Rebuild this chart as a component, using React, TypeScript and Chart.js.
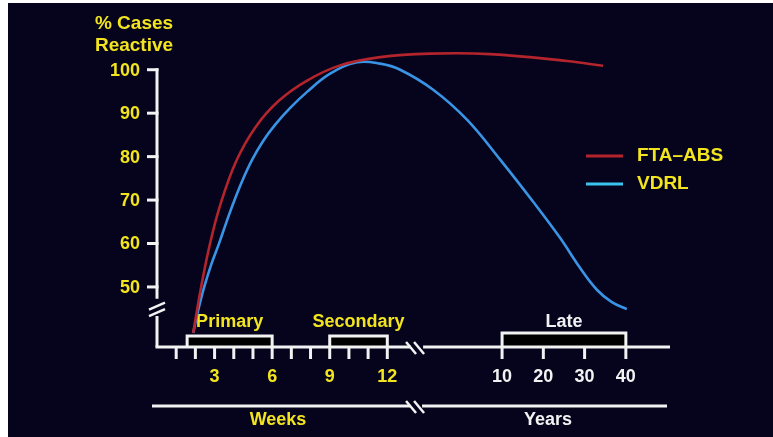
import { useEffect, useRef } from "react";
import { Chart, registerables } from "chart.js";

Chart.register(...registerables);

// ---- data (x positions are on the broken "timeline" axis: weeks 0..13, then the years section) ----
const ftaPos = [1.885, 2.3, 2.77, 3.29, 4.13, 5.15, 6.36, 7.82, 9.54, 11.63, 14.23, 17.35, 21.36, 23.24];
const ftaPct = [39.4, 50.0, 60.1, 68.8, 79.0, 86.9, 92.9, 97.5, 101.0, 102.9, 103.7, 103.6, 102.0, 100.9];

const vdrlPos = [1.885, 2.15, 2.46, 2.82, 3.24, 3.6, 3.97, 4.44, 4.96, 5.53, 6.15, 6.94, 7.82, 9.02, 10.43, 11.63, 12.67, 14.39, 16.15, 17.88, 19.6, 21.0, 22.04, 22.93, 23.7, 24.48];
const vdrlPct = [39.4, 44.7, 50.0, 55.1, 60.1, 64.7, 69.2, 74.4, 79.3, 83.6, 87.3, 91.2, 94.9, 99.1, 101.7, 101.4, 100.0, 95.4, 88.5, 79.3, 69.6, 61.3, 54.4, 49.3, 46.5, 44.9];

const yTicks = [50, 60, 70, 80, 90, 100];
const weekMinorTicks = [1, 2, 3, 4, 5, 6, 7, 8, 9, 10, 11, 12];
const weekLabels = [3, 6, 9, 12];
const yearTicks = [10, 20, 30, 40];
const stageNames = ["Primary", "Secondary", "Late"];
const stageStarts = [1.57, 9, 10]; // weeks, weeks, years
const stageEnds = [6, 12, 40];
const stageUnits = ["w", "w", "y"];

const seriesNames = ["FTA–ABS", "VDRL"];

// timeline mapping for the years section
const YEAR_ORIGIN = 17.98;
const YEAR_STEP = 0.0215;
const yearPos = (y: number) => YEAR_ORIGIN + (y - 10) * YEAR_STEP * 10;

const Y_MIN = 36.18;
const Y_MAX = 105;
const X_MIN = 0;
const X_MAX = 26.73;
const X_BREAK = 13.55;
const Y_BREAK_TOP = 47.3;
const Y_BREAK_BOTTOM = 43.3;

const YELLOW = "#f2e41e";
const WHITE = "#f2f2f2";
const RED = "#b3242c";
const BLUE = "#3a94e6";
const LEGEND_BLUE = "#3cc2ee";
const BG = "#05041c";
const FONT = "bold 18px 'Liberation Sans', Arial, sans-serif";

const decorPlugin = {
  id: "decor",
  beforeDatasetsDraw(chart: any) {
    const { ctx, chartArea } = chart;
    const xs = chart.scales.x;
    const ys = chart.scales.y;
    const px = (v: number) => xs.getPixelForValue(v);
    const py = (v: number) => ys.getPixelForValue(v);
    const base = chartArea.bottom;
    const axisX = px(X_MIN);

    ctx.save();
    ctx.strokeStyle = WHITE;
    ctx.lineWidth = 3;
    ctx.lineCap = "butt";

    // y axis (with break)
    ctx.beginPath();
    ctx.moveTo(axisX, py(100) - 1.5);
    ctx.lineTo(axisX, py(Y_BREAK_TOP));
    ctx.moveTo(axisX, py(Y_BREAK_BOTTOM));
    ctx.lineTo(axisX, base);
    ctx.stroke();
    // y break slashes
    ctx.lineWidth = 2.5;
    ctx.beginPath();
    const s1 = py(Y_BREAK_TOP) + 8;
    const s2 = py(Y_BREAK_BOTTOM) - 3;
    ctx.moveTo(axisX - 8, s1 + 3);
    ctx.lineTo(axisX + 8, s1 - 4);
    ctx.moveTo(axisX - 8, s2 + 3);
    ctx.lineTo(axisX + 8, s2 - 4);
    ctx.stroke();

    // y ticks + labels
    ctx.lineWidth = 3;
    ctx.font = FONT;
    ctx.fillStyle = YELLOW;
    ctx.textAlign = "right";
    ctx.textBaseline = "middle";
    yTicks.forEach((t) => {
      const y = py(t);
      ctx.beginPath();
      ctx.moveTo(axisX - 10, y);
      ctx.lineTo(axisX + 1.5, y);
      ctx.stroke();
      ctx.fillText(String(t), axisX - 17, y + 1);
    });

    // y title
    ctx.textAlign = "center";
    ctx.font = "bold 19px 'Liberation Sans', Arial, sans-serif";
    ctx.fillText("% Cases", axisX - 23, chartArea.top - 24);
    ctx.fillText("Reactive", axisX - 23, chartArea.top - 2);

    // stage brackets
    for (let i = 0; i < stageNames.length; i++) {
      const a = stageUnits[i] === "y" ? px(yearPos(stageStarts[i])) : px(stageStarts[i]);
      const b = stageUnits[i] === "y" ? px(yearPos(stageEnds[i])) : px(stageEnds[i]);
      const h = stageUnits[i] === "y" ? 14 : 11;
      ctx.fillStyle = "#000000";
      ctx.fillRect(a, base - h, b - a, h);
      ctx.strokeStyle = WHITE;
      ctx.lineWidth = 3;
      ctx.beginPath();
      ctx.moveTo(a, base);
      ctx.lineTo(a, base - h);
      ctx.lineTo(b, base - h);
      ctx.lineTo(b, base);
      ctx.stroke();
      ctx.fillStyle = stageUnits[i] === "y" ? WHITE : YELLOW;
      ctx.font = FONT;
      ctx.textAlign = "center";
      ctx.textBaseline = "middle";
      ctx.fillText(stageNames[i], (a + b) / 2, base - 25);
    }

    // x axis (with break)
    ctx.strokeStyle = WHITE;
    ctx.lineWidth = 3;
    const bx = px(X_BREAK);
    ctx.beginPath();
    ctx.moveTo(axisX - 1.5, base);
    ctx.lineTo(bx - 6, base);
    ctx.moveTo(bx + 6, base);
    ctx.lineTo(chartArea.right, base);
    ctx.stroke();
    const breakSlashes = (cx: number, cy: number) => {
      ctx.lineWidth = 2.5;
      ctx.beginPath();
      ctx.moveTo(cx - 11, cy - 6);
      ctx.lineTo(cx - 1, cy + 6);
      ctx.moveTo(cx - 3, cy - 6);
      ctx.lineTo(cx + 7, cy + 6);
      ctx.stroke();
    };
    ctx.fillStyle = BG;
    ctx.fillRect(bx - 6, base - 3, 12, 6);
    breakSlashes(bx, base + 1);

    // week / year ticks
    ctx.lineWidth = 3;
    weekMinorTicks.forEach((w) => {
      const x = px(w);
      ctx.beginPath();
      ctx.moveTo(x, base);
      ctx.lineTo(x, base + 12);
      ctx.stroke();
    });
    yearTicks.forEach((y) => {
      const x = px(yearPos(y));
      ctx.beginPath();
      ctx.moveTo(x, base);
      ctx.lineTo(x, base + 12);
      ctx.stroke();
    });

    ctx.font = FONT;
    ctx.textAlign = "center";
    ctx.textBaseline = "middle";
    ctx.fillStyle = YELLOW;
    weekLabels.forEach((w) => ctx.fillText(String(w), px(w), base + 30));
    ctx.fillStyle = WHITE;
    yearTicks.forEach((y) => ctx.fillText(String(y), px(yearPos(y)), base + 30));

    // Weeks / Years line
    const ly = base + 59;
    ctx.strokeStyle = WHITE;
    ctx.lineWidth = 3;
    ctx.beginPath();
    ctx.moveTo(axisX - 5, ly);
    ctx.lineTo(bx - 7, ly);
    ctx.moveTo(bx + 5, ly);
    ctx.lineTo(chartArea.right - 3, ly);
    ctx.stroke();
    breakSlashes(bx, ly + 1);
    ctx.fillStyle = YELLOW;
    ctx.fillText("Weeks", (axisX + bx) / 2 - 9, ly + 14);
    ctx.fillStyle = WHITE;
    ctx.fillText("Years", (px(yearPos(10)) + px(yearPos(40))) / 2 - 16, ly + 14);

    ctx.restore();
  },
  afterDraw(chart: any) {
    const { ctx, chartArea } = chart;
    ctx.save();
    const lx = chartArea.right - 84;
    const colors = [RED, LEGEND_BLUE];
    const ys = [chartArea.top + 108, chartArea.top + 136];
    ctx.font = "bold 19px 'Liberation Sans', Arial, sans-serif";
    ctx.textAlign = "left";
    ctx.textBaseline = "middle";
    seriesNames.forEach((n, i) => {
      ctx.strokeStyle = colors[i];
      ctx.lineWidth = 3;
      ctx.beginPath();
      ctx.moveTo(lx, ys[i]);
      ctx.lineTo(lx + 37, ys[i]);
      ctx.stroke();
      ctx.fillStyle = YELLOW;
      ctx.fillText(n, lx + 51, ys[i]);
    });
    ctx.restore();
  },
};

export default function App() {
  const ref = useRef<HTMLCanvasElement | null>(null);
  useEffect(() => {
    if (!ref.current) return;
    const chart = new Chart(ref.current, {
      type: "line",
      data: {
        datasets: [
          {
            label: seriesNames[0],
            data: ftaPos.map((x, i) => ({ x, y: ftaPct[i] })),
            borderColor: RED,
            borderWidth: 2.6,
            pointRadius: 0,
            tension: 0.4,
            fill: false,
          },
          {
            label: seriesNames[1],
            data: vdrlPos.map((x, i) => ({ x, y: vdrlPct[i] })),
            borderColor: BLUE,
            borderWidth: 2.6,
            pointRadius: 0,
            tension: 0.4,
            fill: false,
          },
        ],
      },
      options: {
        animation: false,
        responsive: true,
        maintainAspectRatio: false,
        layout: { padding: { left: 149, right: 103, top: 45, bottom: 90 } },
        plugins: { legend: { display: false }, tooltip: { enabled: false } },
        scales: {
          x: { type: "linear", min: X_MIN, max: X_MAX, display: false },
          y: { type: "linear", min: Y_MIN, max: Y_MAX, display: false },
        },
      },
      plugins: [decorPlugin],
    });
    return () => chart.destroy();
  }, []);
  return (
    <div
      style={{
        position: "absolute",
        left: 8,
        top: 3,
        width: 765,
        height: 434,
        background: BG,
      }}
    >
      <canvas ref={ref} />
    </div>
  );
}
